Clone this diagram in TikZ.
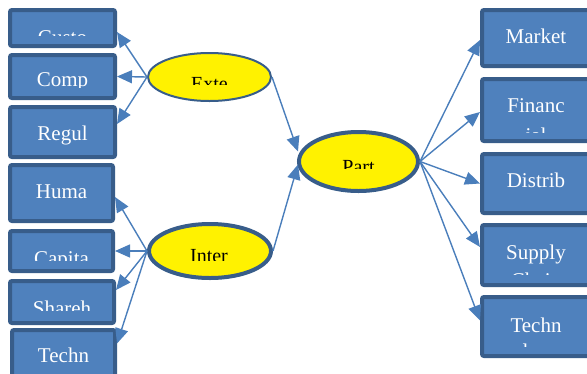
\documentclass[tikz,border=0pt]{standalone}
\usepackage{fontspec}
\setmainfont{Liberation Serif}
\usetikzlibrary{arrows.meta,shapes.geometric}
\definecolor{boxfill}{HTML}{4F81BD}
\definecolor{boxline}{HTML}{385D8A}
\definecolor{arrowline}{HTML}{4A7EBB}
\tikzset{
  box/.style={draw=boxline, fill=boxfill, line width=4pt, rounded corners=2pt, inner sep=0pt},
  oval/.style={ellipse, draw=boxline, fill=yellow, inner sep=0pt},
  boxtext/.style={text=white, font=\fontsize{21}{24}\selectfont, anchor=base, inner sep=0pt},
  ovaltext/.style={text=black, font=\fontsize{20}{22}\selectfont, anchor=base, inner sep=0pt},
  conn/.style={draw=arrowline, line width=1.4pt, -{Triangle[length=15pt,width=13pt]}}
}
% box given by its outer edges: name, left, top, right, bottom
\newcommand{\outlinebox}[5]{%
  \node[box, minimum width={(#4-#2-4)*1pt}, minimum height={(#5-#3-4)*1pt}]
    (#1) at ({(#2+#4)/2},{(#3+#5)/2}) {};}
% text cut off below a given line: name, x, baseline, cut line, text, style
\newcommand{\cuttext}[6]{%
  \begin{scope}\clip (0,0) rectangle (587,#4);
    \node[#6] (#1) at (#2,#3) {#5};
  \end{scope}}
\begin{document}
\begin{tikzpicture}[x=1pt,y=-1pt]
\useasboundingbox (0,0) rectangle (587,373);

% left column
\outlinebox{cust}{8}{8}{117}{48}
\outlinebox{comp}{8}{53}{117}{100}
\outlinebox{regu}{8}{105}{117}{159}
\outlinebox{huma}{8}{163}{115}{223}
\outlinebox{capi}{8}{229}{115}{273}
\outlinebox{shar}{8}{279}{116}{325}
\outlinebox{tecl}{10}{328}{117}{385}

% right column
\outlinebox{mark}{480}{8}{592}{68}
\outlinebox{fina}{480}{77}{592}{143}
\outlinebox{dist}{480}{152}{592}{215}
\outlinebox{supp}{480}{223}{592}{287}
\outlinebox{tecr}{480}{295}{592}{358}

% ovals
\node[oval, line width=2pt, minimum width=123pt, minimum height=48pt] (exte) at (209.5,77) {};
\node[oval, line width=4pt, minimum width=122pt, minimum height=54pt] (inte) at (210,251) {};
\node[oval, line width=4pt, minimum width=119pt, minimum height=59pt] (part) at (358.5,161.5) {};

% box labels
\cuttext{tcust}{62.5}{44}{35}{Custo}{boxtext}
\cuttext{tcomp}{62.5}{86}{87}{Comp}{boxtext}
\node[boxtext] (tregu) at (62.5,140) {Regul};
\node[boxtext] (thuma) at (61.5,198) {Huma};
\cuttext{tcapi}{61.5}{265}{260}{Capita}{boxtext}
\cuttext{tshar}{62}{315}{310}{Shareh}{boxtext}
\node[boxtext] (ttecl) at (63.5,362) {Techn};

\node[boxtext] (tmark) at (536,43) {Market};
\node[boxtext] (tfina) at (536,112) {Financ};
\cuttext{tfinb}{536}{142}{132}{ial}{boxtext}
\node[boxtext] (tdist) at (536,187) {Distrib};
\node[boxtext] (tsupp) at (536,259) {Supply};
\cuttext{tsupb}{536}{287}{274}{Chain}{boxtext}
\node[boxtext] (ttecr) at (536,332) {Techn};
\cuttext{ttecb}{536}{358}{346}{ology}{boxtext}

% oval labels
\cuttext{texte}{209.5}{90}{84}{Exte}{ovaltext}
\cuttext{tinte}{209}{262}{260}{Inter}{ovaltext}
\cuttext{tpart}{358.5}{173}{168}{Part}{ovaltext}

% connectors
\draw[conn] (exte.west) -- ([yshift=-4pt]cust.east);
\draw[conn] (exte.west) -- (comp.east);
\draw[conn] (exte.west) -- ([yshift=8pt]regu.east);
\draw[conn] (inte.west) -- ([yshift=-4pt]huma.east);
\draw[conn] (inte.west) -- (capi.east);
\draw[conn] (inte.west) -- ([yshift=12pt]shar.east);
\draw[conn] (inte.west) -- ([yshift=13pt]tecl.east);
\draw[conn] (exte.east) -- ([xshift=1pt,yshift=10pt]part.west);
\draw[conn] (inte.east) -- ([xshift=1pt,yshift=-3pt]part.west);
\draw[conn] (part.east) -- ([yshift=-2pt]mark.west);
\draw[conn] (part.east) -- ([yshift=-2pt]fina.west);
\draw[conn] (part.east) -- (dist.west);
\draw[conn] (part.east) -- ([yshift=8pt]supp.west);
\draw[conn] (part.east) -- ([yshift=6pt]tecr.west);
\end{tikzpicture}
\end{document}
